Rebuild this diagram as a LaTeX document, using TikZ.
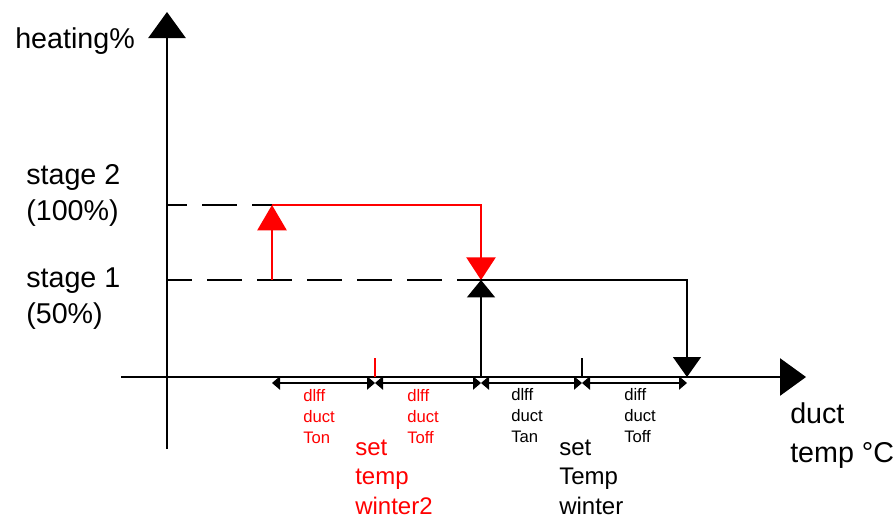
\documentclass[tikz,border=0pt]{standalone}
\usepackage{fontspec}
\setmainfont{Liberation Sans}
\usetikzlibrary{arrows.meta}

\definecolor{cadred}{RGB}{255,0,0}
\tikzset{
  axisarrow/.style={line width=1.1pt,-{Triangle[length=19.5pt,width=28pt]}},
  levelline/.style={line width=1pt,dash pattern=on 26.25pt off 11.25pt},
  dimline/.style={line width=0.8pt,{Triangle[length=6pt,width=10pt]}-{Triangle[length=6pt,width=10pt]}},
  biglbl/.style={font=\fontsize{21.5}{27}\selectfont,align=left,anchor=base west,inner sep=0pt},
  setlbl/.style={font=\fontsize{18}{22}\selectfont,align=left,anchor=base west,inner sep=0pt},
  difflbl/.style={font=\fontsize{12.5}{15.4}\selectfont,align=left,anchor=base west,inner sep=0pt},
}

\begin{document}
\begin{tikzpicture}[x=0.75pt,y=0.75pt,yscale=-1,xscale=1]
\useasboundingbox (0,0) rectangle (895,521);

%Axes
\coordinate (ybot) at (167,449);
\coordinate (ytop) at (167,12);
\coordinate (xleft) at (121,377);
\coordinate (xright) at (806,377);
\draw [axisarrow] (ybot) -- (ytop);
\draw [axisarrow] (xleft) -- (xright);

%Levels
\coordinate (lvl2) at (167,205);
\coordinate (lvl1) at (167,280);
\coordinate (on2) at (272,280);
\coordinate (on2top) at (272,205);
\coordinate (off2) at (481,205);
\coordinate (off2bot) at (481,280);
\coordinate (on1) at (481,377);
\coordinate (off1) at (687,280);
\coordinate (off1bot) at (687,377);
\draw [levelline,dash phase=11.25pt] (lvl2) -- (on2top);
\draw [levelline,dash phase=7.5pt] (lvl1) -- (off2bot);

%Stage 2 (red)
\draw [cadred,line width=1pt,-{Triangle[length=19pt,width=22pt]}] (on2) -- (on2top);
\draw [cadred,line width=1pt,-{Triangle[length=17pt,width=22pt]}] (on2top) -- (off2) -- (off2bot);

%Stage 1 (black)
\draw [line width=1pt,-{Triangle[length=13pt,width=21pt]}] (on1) -- (off2bot);
\draw [line width=1pt,-{Triangle[length=15pt,width=21pt]}] (off2bot) -- (off1) -- (off1bot);

%Set points
\coordinate (set2) at (375,377);
\coordinate (set2top) at (375,358);
\coordinate (set1) at (582,377);
\coordinate (set1top) at (582,358);
\draw [cadred,line width=1pt] (set2) -- (set2top);
\draw [line width=1pt] (set1) -- (set1top);

%Dimension lines
\coordinate (dim0) at (272,383);
\coordinate (dim1) at (375,383);
\coordinate (dim2) at (481,383);
\coordinate (dim3) at (582,383);
\coordinate (dim4) at (687,383);
\draw [dimline] (dim0) -- (dim1);
\draw [dimline] (dim1) -- (dim2);
\draw [dimline] (dim2) -- (dim3);
\draw [dimline] (dim3) -- (dim4);

% Text Node
\node [biglbl] (heating) at (15,48) {heating\%};
% Text Node
\node [biglbl] (stagetwo) at (26,220) {stage 2\\(100\%)};
% Text Node
\node [biglbl] (stageone) at (26,323) {stage 1\\(50\%)};
% Text Node
\node [biglbl] (ducttemp) at (790,462) {duct\\[2pt]temp °C};
% Text Node
\node [difflbl,text=cadred] (difftwoon) at (303,443) {dlff\\duct\\Ton};
% Text Node
\node [difflbl,text=cadred] (difftwooff) at (407,443) {dlff\\duct\\Toff};
% Text Node
\node [difflbl] (diffoneon) at (511,442) {dlff\\duct\\Tan};
% Text Node
\node [difflbl] (diffoneoff) at (624,442) {diff\\duct\\Toff};
% Text Node
\node [setlbl,text=cadred] (settwo) at (355,514) {set\\temp\\winter2};
% Text Node
\node [setlbl] (setone) at (559,514) {set\\Temp\\winter};

\end{tikzpicture}
\end{document}
